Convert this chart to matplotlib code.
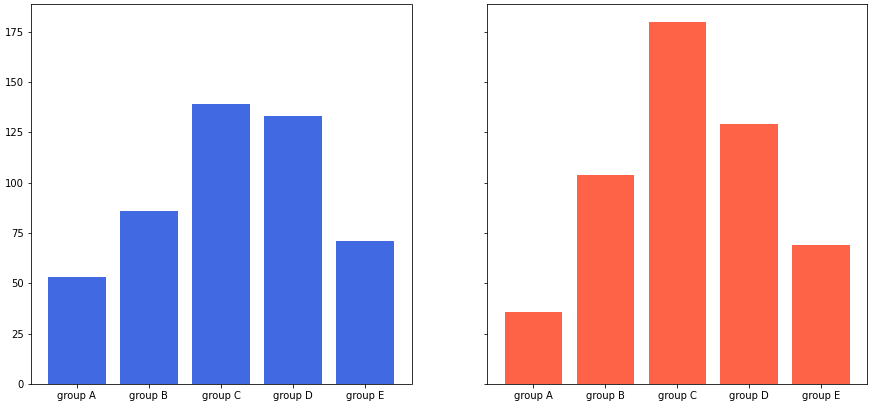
import matplotlib.pyplot as plt

# bar values
groups = ['group A', 'group B', 'group C', 'group D', 'group E']
left_values = [53, 86, 139, 133, 71]
right_values = [36, 104, 180, 129, 69]

dpi = 72
fig = plt.figure(figsize=(872 / dpi, 408 / dpi), dpi=dpi)

ax1 = fig.add_axes([30.5 / 872, 24 / 408, 381 / 872, 380.5 / 408])
ax2 = fig.add_axes([487.3 / 872, 24 / 408, 380 / 872, 380.5 / 408], sharey=ax1)

ax1.bar(groups, left_values, color='royalblue')
ax2.bar(groups, right_values, color='tomato')
ax2.tick_params(labelleft=False)

fig.savefig('out.png', dpi=dpi)
